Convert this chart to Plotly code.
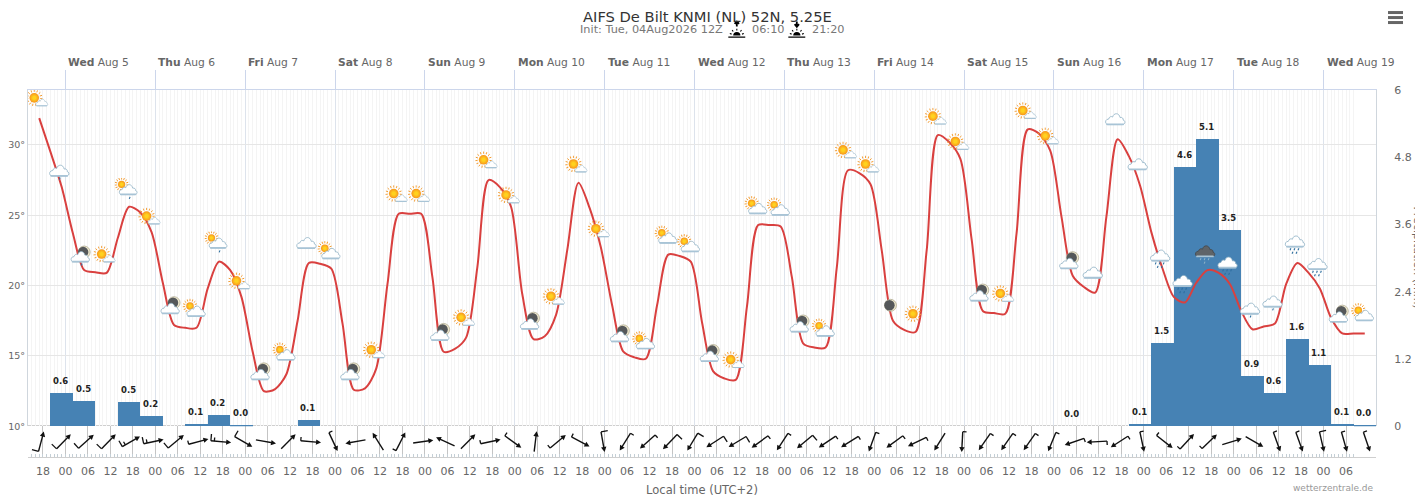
import base64
import pandas as pd
import plotly.graph_objects as go

# page body has an 8px margin, so everything below is laid out from the (8, 8) corner
FIG_W = 1409
FIG_H = 495
L, R, T, B = 20.4, 41, 81.5, 46.3
STRIP_H = 30.7

# temperature, one per 3h step, first step is Aug 4 17:00 local
temp = [31.9, 29.5, 27.0, 23.7, 21.1, 20.95, 20.9, 23.4, 25.6, 25.2,
        23.8, 20.2, 17.2, 17.0, 17.0, 19.8, 21.7, 21.1, 19.2, 15.3,
        12.5, 12.65, 13.7, 17.5, 21.6, 21.55, 21.2, 17.3, 12.6, 12.7,
        14.1, 20.1, 25.1, 25.1, 25.1, 20.6, 15.3, 15.5, 16.3, 21.3,
        27.5, 27.0, 25.6, 19.4, 16.2, 16.4, 17.9, 22.5, 27.3, 25.5,
        22.7, 18.6, 15.3, 14.9, 14.8, 18.6, 22.2, 22.1, 21.7, 17.4,
        13.9, 13.4, 13.3, 18.5, 24.3, 24.3, 24.2, 20.6, 15.9, 15.6,
        15.6, 21.3, 28.2, 28.0, 27.2, 22.5, 17.5, 16.85, 16.7, 22.5,
        30.7, 30.2, 29.0, 23.3, 18.2, 18.05, 18.0, 23.7, 31.1, 30.8,
        29.6, 24.9, 20.7, 19.9, 19.5, 24.9, 30.4, 29.2, 27.1, 23.8,
        21.2, 19.2, 18.8, 20.2, 21.1, 20.9, 20.1, 18.2, 16.9, 17.1,
        17.3, 20.1, 21.6, 20.9, 19.8, 17.7, 16.6, 16.6, 16.6]

# the rest is one per 6h step
precip = [None, 0.59, 0.46, None, 0.43, 0.18, None, 0.04, 0.21, 0.02,
          None, None, 0.11, None, None, None, None, None, None, None,
          None, None, None, None, None, None, None, None, None, None,
          None, None, None, None, None, None, None, None, None, None,
          None, None, None, None, None, None, 0.0, None, None, 0.05,
          1.49, 4.62, 5.12, 3.5, 0.89, 0.59, 1.55, 1.09, 0.05, 0.02]

precip_labels = ["", "0.6", "0.5", "", "0.5", "0.2", "", "0.1", "0.2", "0.0",
                 "", "", "0.1", "", "", "", "", "", "", "",
                 "", "", "", "", "", "", "", "", "", "",
                 "", "", "", "", "", "", "", "", "", "",
                 "", "", "", "", "", "", "0.0", "", "", "0.1",
                 "1.5", "4.6", "5.1", "3.5", "0.9", "0.6", "1.6", "1.1", "0.1", "0.0"]

icon_types = ["sun_small", "cloud_drop", "moon_cloud_drop", "sun_small", "sun_cloud_drop", "sun_small",
              "moon_cloud", "sun_cloud", "sun_cloud_drop", "sun_small", "moon_cloud", "sun_cloud",
              "cloud", "sun_cloud", "moon_cloud", "sun_small", "sun_small", "sun_small",
              "moon_cloud", "sun_small", "sun_small", "sun_small", "moon_cloud", "sun_small",
              "sun_small", "sun_small", "moon_cloud", "sun_cloud", "sun_cloud", "sun_cloud",
              "moon_cloud", "sun_small", "sun_cloud", "sun_cloud", "moon_cloud", "sun_cloud",
              "sun_small", "sun_small", "moon", "sun", "sun_small", "sun_small",
              "moon_cloud", "sun_small", "sun_small", "sun_small", "moon_cloud", "cloud",
              "cloud", "cloud", "cloud_rain", "cloud_rain", "storm", "cloud_rain",
              "cloud_drop", "cloud_drop", "cloud_rain", "cloud_rain", "moon_cloud", "sun_cloud"]

icon_temp = [33.2, 28.0, 22.1, 22.1, 26.8, 24.8, 18.5, 18.3, 23.0, 20.2,
             13.8, 15.2, 23.0, 22.4, 13.8, 15.3, 26.4, 26.4, 16.6, 17.6,
             28.8, 26.3, 17.4, 19.1, 28.5, 23.9, 16.5, 16.0, 23.5, 22.9,
             15.1, 14.6, 25.6, 25.5, 17.2, 16.9, 29.5, 28.5, 18.6, 18.0,
             31.9, 30.1, 19.4, 19.3, 32.3, 30.5, 21.7, 20.9, 31.8, 28.6,
             21.9, 20.1, 22.2, 21.4, 18.2, 18.7, 22.9, 21.3, 17.9, 18.0]

# direction the arrow points to, degrees clockwise from up
wind_heading = [15, 44, 48, 44, 60, 78, 50, 75, 95, 120,
                100, 45, 95, 155, 260, 328, 27, 82, 295, 45,
                78, 126, 7, 50, 118, 170, 212, 228, 224, 211,
                237, 239, 234, 213, 230, 236, 238, 200, 234, 244,
                212, 183, 215, 215, 215, 202, 251, 267, 237, 168,
                128, 43, 46, 73, 120, 160, 160, 167, 164, 161]

# barb on the tail: 0 none, 0.5 short, 1 long, 1.5 long and short
wind_barbs = [1, 1, 1, 1, 1.5, 1.5, 1, 0.5, 1.5, 1,
              0, 0, 0.5, 0.5, 0, 0, 0.5, 0, 0, 0,
              0.5, 0.5, 0, 0.5, 0.5, 1, 0.5, 0.5, 1, 1,
              1, 1, 0.5, 0.5, 1, 0.5, 0.5, 0.5, 0.5, 0.5,
              0, 0.5, 0.5, 0.5, 0.5, 0.5, 0.5, 0.5, 0.5, 0.5,
              0.5, 0.5, 0.5, 0, 0, 0.5, 0.5, 1, 0.5, 0.5]

day_labels = ["<b>Wed</b> Aug 5", "<b>Thu</b> Aug 6", "<b>Fri</b> Aug 7", "<b>Sat</b> Aug 8",
              "<b>Sun</b> Aug 9", "<b>Mon</b> Aug 10", "<b>Tue</b> Aug 11", "<b>Wed</b> Aug 12",
              "<b>Thu</b> Aug 13", "<b>Fri</b> Aug 14", "<b>Sat</b> Aug 15", "<b>Sun</b> Aug 16",
              "<b>Mon</b> Aug 17", "<b>Tue</b> Aug 18", "<b>Wed</b> Aug 19"]

times = pd.date_range("2026-08-04 17:00", periods=60, freq="6h")
temp_times = pd.date_range("2026-08-04 17:00", periods=len(temp), freq="3h")
midnights = pd.date_range("2026-08-05 00:00", periods=15, freq="24h")
hours = pd.date_range("2026-08-04 15:00", "2026-08-19 08:00", freq="1h")
six_hours = pd.date_range("2026-08-04 18:00", "2026-08-19 06:00", freq="6h")
x_range = ["2026-08-04 14:00", "2026-08-19 14:00"]
temp_range = [10, 33.9]

plot_w = FIG_W - L - R
plot_h = FIG_H - T - B
px_per_hour = plot_w / (15 * 24)
px_per_deg = (plot_h - STRIP_H) / (temp_range[1] - temp_range[0])
FONT = "DejaVu Sans"


def paper_x(px):
    return (px - 8 - L) / plot_w


def paper_y(py):
    return 1 - (py - 8 - T) / plot_h


def to_uri(body, size=24):
    svg = f'<svg xmlns="http://www.w3.org/2000/svg" width="{size}" height="{size}" viewBox="0 0 {size} {size}">{body}</svg>'
    return "data:image/svg+xml;base64," + base64.b64encode(svg.encode()).decode()


def sun(cx, cy, r):
    rays = ""
    for a in range(0, 360, 24):
        rays += (f'<line x1="0" y1="{-r - 1.2}" x2="0" y2="{-r - 3.4}" stroke="#f39a2d" stroke-width=".9" '
                 f'transform="translate({cx} {cy}) rotate({a})"/>')
    return (rays + f'<radialGradient id="s"><stop offset="0.3" stop-color="#ffd21f"/>'
            f'<stop offset="1" stop-color="#f7941d"/></radialGradient>'
            f'<circle cx="{cx}" cy="{cy}" r="{r}" fill="url(#s)"/>')


def cloud(cx, cy, s, fill="#ffffff", edge="#8db0c4"):
    return (f'<g transform="translate({cx} {cy}) scale({s})">'
            f'<path d="M-7 4C-10.5 4-10.5-1.5-6.5-1.5C-6-4-3.5-4.5-2.5-3.5C-1.5-8 4-8 5-3C7-3.5 8.5-2 8-.5'
            f'C10.5 0 10.5 4 7 4Z" fill="{fill}" stroke="{edge}" stroke-width=".8"/>'
            f'<path d="M-8 3.8H8" stroke="#a8c4d6" stroke-width="1.8" stroke-linecap="round"/></g>')


def moon(cx, cy, r):
    return (f'<circle cx="{cx}" cy="{cy}" r="{r}" fill="#efe9cf" stroke="#a8a286" stroke-width=".7"/>'
            f'<circle cx="{cx - 1}" cy="{cy}" r="{r - 0.8}" fill="#55585a"/>')


def drops(spots, color="#2f6f9f"):
    return "".join(f'<line x1="{x}" y1="{y}" x2="{x - 0.8}" y2="{y + 2}" stroke="{color}" stroke-width="1.1"/>'
                   for x, y in spots)


icons = {
    "sun_small": sun(9.5, 10, 4.8) + cloud(17, 15.5, 0.62),
    "sun": sun(12, 12, 4.8),
    "sun_cloud": sun(8, 8.5, 3.8) + cloud(14, 15, 0.95),
    "sun_cloud_drop": sun(7, 6.5, 3.6) + cloud(13.5, 13, 0.92) + drops([(15.5, 19)]),
    "cloud": cloud(12, 13, 1),
    "cloud_drop": cloud(12, 11, 1) + drops([(13, 16.5)]),
    "cloud_rain": cloud(12, 10, 1) + drops([(8, 15.5), (12, 15.5), (16, 15.5), (10, 19), (14, 19)]),
    "storm": cloud(12, 10, 1, fill="#5f6468", edge="#44484b") + drops([(8, 15.5), (12, 15.5), (16, 15.5), (12, 19)], "#8fb3c7"),
    "moon": moon(12, 12, 6),
    "moon_cloud": moon(14.5, 8, 6) + cloud(10.5, 15, 0.95),
    "moon_cloud_drop": moon(14.5, 8, 6) + cloud(10.5, 14, 0.95) + drops([(12.5, 19.5)]),
}


def barb(heading, kind):
    # drawn pointing up, then turned, tail at the bottom
    body = ('<line x1="14" y1="24" x2="14" y2="6" stroke="#111" stroke-width="1.4"/>'
            '<polygon points="14,3.6 11.3,8.6 16.7,8.6" fill="#111"/>')
    if kind == 0.5:
        body += '<line x1="14" y1="24" x2="10.2" y2="24" stroke="#111" stroke-width="1.3"/>'
    if kind >= 1:
        body += '<line x1="14" y1="24" x2="7.2" y2="24" stroke="#111" stroke-width="1.3"/>'
    if kind == 1.5:
        body += '<line x1="14" y1="20.5" x2="10.4" y2="20.5" stroke="#111" stroke-width="1.3"/>'
    return to_uri(f'<g transform="rotate({heading} 14 14)">{body}</g>', 28)


def sun_mark(up):
    head = "M9 1V6M6.8 3.4 9 .8 11.2 3.4" if up else "M9 1V6M6.8 3.6 9 6.2 11.2 3.6"
    rays = "M9 8.2V10M4.3 9.6 5.4 11M13.7 9.6 12.6 11M2 13 3.8 13.6M16 13 14.2 13.6"
    return to_uri(f'<path d="{head}" fill="none" stroke="#000" stroke-width="1.8"/>'
                  f'<path d="{rays}" fill="none" stroke="#000" stroke-width="1.1"/>'
                  f'<path d="M5.4 15A3.6 3.6 0 0 1 12.6 15Z" fill="#000"/>'
                  f'<path d="M.5 16.5H17.5" stroke="#000" stroke-width="1.2"/>', 18)


fig = go.Figure()

fig.add_trace(go.Bar(x=times, y=precip, width=6 * 3600 * 1000, marker=dict(color="#4682b4", line=dict(width=0)),
                     xaxis="x2", yaxis="y", hoverinfo="skip"))
fig.add_trace(go.Scatter(x=temp_times, y=temp, mode="lines", line=dict(color="#d9403f", width=2, shape="spline", smoothing=0.8),
                         xaxis="x2", yaxis="y2", hoverinfo="skip"))
# keeps the wind strip subplot alive, the arrows are images
fig.add_trace(go.Scatter(x=times, y=[0.5] * len(times), mode="none", xaxis="x", yaxis="y3", hoverinfo="skip"))

images = []
for t, kind, val in zip(times, icon_types, icon_temp):
    images.append(dict(source=to_uri(icons[kind]), xref="x2", yref="y2", x=t - pd.Timedelta(minutes=40), y=val,
                       sizex=24 / px_per_hour * 3600 * 1000, sizey=24 / px_per_deg,
                       xanchor="center", yanchor="middle", sizing="contain", layer="above"))
for t, heading, kind in zip(times, wind_heading, wind_barbs):
    images.append(dict(source=barb(heading, kind), xref="x", yref="y3", x=t + pd.Timedelta(minutes=30), y=0.5,
                       sizex=28 / px_per_hour * 3600 * 1000, sizey=28 / STRIP_H,
                       xanchor="center", yanchor="middle", sizing="contain", layer="above"))
for up, cx in [(True, 737), (False, 797)]:
    images.append(dict(source=sun_mark(up), xref="paper", yref="paper", x=paper_x(cx), y=paper_y(29),
                       sizex=18 / plot_w, sizey=18 / plot_h, xanchor="center", yanchor="middle", sizing="contain"))

annotations = []
for t, val, label in zip(times, precip, precip_labels):
    if label:
        annotations.append(dict(x=t, y=val, xref="x2", yref="y", text=label, showarrow=False, yshift=12, xshift=-1,
                                font=dict(family=FONT, size=8.5, color="#222222", weight=600), yanchor="middle"))
for t, label in zip(midnights, day_labels):
    annotations.append(dict(x=t, y=paper_y(62), xref="x2", yref="paper", text=label, showarrow=False, xanchor="left", xshift=1,
                            yanchor="middle", font=dict(family=FONT, size=10.7, color="#666666")))

sub_font = dict(family=FONT, size=11.3, color="#777777")
annotations += [
    dict(x=paper_x(708), y=paper_y(16), xref="paper", yref="paper", text="AIFS De Bilt KNMI (NL) 52N, 5.25E", showarrow=False,
         font=dict(family=FONT, size=14.7, color="#333333"), yanchor="middle"),
    dict(x=paper_x(725), y=paper_y(29), xref="paper", yref="paper", text="Init: Tue, 04Aug2026 12Z", showarrow=False,
         xanchor="right", yanchor="middle", font=sub_font),
    dict(x=paper_x(750), y=paper_y(29), xref="paper", yref="paper", text="06:10", showarrow=False,
         xanchor="left", yanchor="middle", font=sub_font),
    dict(x=paper_x(810), y=paper_y(29), xref="paper", yref="paper", text="21:20", showarrow=False,
         xanchor="left", yanchor="middle", font=sub_font),
    dict(x=paper_x(1376), y=paper_y(488), xref="paper", yref="paper", text="wetterzentrale.de", showarrow=False,
         xanchor="right", yanchor="middle", font=dict(family=FONT, size=9, color="#999999")),
    # half of this title runs off the page edge, same as in the original
    dict(x=paper_x(1418), y=paper_y(257), xref="paper", yref="paper", text="Precipitation (mm)", showarrow=False, textangle=90,
         xanchor="center", yanchor="middle", font=dict(family=FONT, size=11, color="#666666")),
]

shapes = []
# menu button
for py in (12, 17, 22):
    shapes.append(dict(type="line", xref="paper", yref="paper", x0=paper_x(1388), x1=paper_x(1403), y0=paper_y(py), y1=paper_y(py),
                       line=dict(color="#666666", width=3, )))
# page edge
shapes.append(dict(type="line", xref="paper", yref="paper", x0=paper_x(1416.5), x1=paper_x(1416.5), y0=paper_y(0), y1=paper_y(503),
                   line=dict(color="#e2e2e2", width=1)))

strip_frac = STRIP_H / plot_h

fig.update_layout(
    width=FIG_W, height=FIG_H, autosize=False,
    margin=dict(l=L, r=R, t=T, b=B, pad=0),
    plot_bgcolor="white", paper_bgcolor="white",
    showlegend=False, barmode="overlay", bargap=0,
    font=dict(family=FONT, size=11, color="#666666"),
    images=images, annotations=annotations, shapes=shapes,
    xaxis=dict(anchor="y3", type="date", range=x_range, automargin=False, tickmode="array", tickvals=six_hours,
               ticktext=[t.strftime("%H") for t in six_hours], ticks="", ticklabelstandoff=4,
               showgrid=True, gridcolor="#c4c4c4", gridwidth=1, zeroline=False,
               showline=True, linecolor="#cfcfcf", linewidth=1.4, mirror=True,
               minor=dict(tickmode="array", tickvals=hours, ticks="inside", ticklen=3, tickcolor="#c4cfd6", showgrid=False),
               title=dict(text="Local time (UTC+2)", standoff=8, font=dict(family=FONT, size=11.5, color="#666666"))),
    xaxis2=dict(anchor="y", matches="x", type="date", side="top", automargin=False, tickmode="array", tickvals=midnights,
                showticklabels=False, ticks="outside", ticklen=19, tickcolor="#ccd6eb", tickwidth=1,
                showgrid=True, gridcolor="#dde3ec", gridwidth=1, zeroline=False,
                showline=True, linecolor="#ccd6eb", linewidth=1,
                minor=dict(tickmode="array", tickvals=hours, showgrid=True, gridcolor="#f4f4f4", gridwidth=1, ticks="")),
    yaxis=dict(anchor="x2", side="right", domain=[strip_frac, 1], range=[0, 6], automargin=False, tickmode="array",
               tickvals=[0, 1.2, 2.4, 3.6, 4.8, 6], ticktext=["0", "1.2", "2.4", "3.6", "4.8", "6"],
               showgrid=False, zeroline=False, showline=True, linecolor="#cfd6dd", linewidth=1, ticks="", ticklabelstandoff=15),
    yaxis2=dict(anchor="x2", side="left", overlaying="y", range=temp_range, automargin=False, tickmode="array",
                tickvals=[10, 15, 20, 25, 30], ticktext=["10°", "15°", "20°", "25°", "30°"],
                tickfont=dict(family=FONT, size=9.5, color="#666666"),
                showgrid=True, gridcolor="#e6e6e6", gridwidth=1,
                zeroline=False, showline=True, linecolor="#cfd6dd", linewidth=1, ticks="", ticklabelstandoff=0),
    yaxis3=dict(anchor="x", domain=[0, strip_frac], range=[0, 1], automargin=False, showgrid=False, zeroline=False,
                showticklabels=False, ticks="", showline=False),
)

fig.write_html("out.html")
